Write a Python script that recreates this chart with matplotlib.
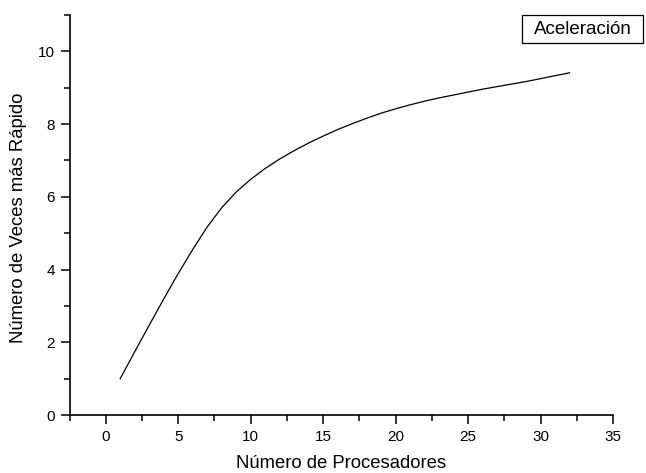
import matplotlib
matplotlib.use("Agg")
import matplotlib.pyplot as plt
from matplotlib.ticker import MultipleLocator
from matplotlib.patches import Rectangle

plt.rcParams['font.family'] = ['Liberation Sans', 'DejaVu Sans']

processors = list(range(1, 33))
speedup = [1.00, 1.74, 2.47, 3.19, 3.89, 4.55, 5.17, 5.70, 6.13, 6.48,
           6.78, 7.04, 7.27, 7.48, 7.67, 7.85, 8.01, 8.16, 8.30, 8.42,
           8.53, 8.63, 8.72, 8.80, 8.88, 8.96, 9.03, 9.10, 9.17, 9.25,
           9.33, 9.41]
legend_label = "Aceleración"
x_label = "Número de Procesadores"
y_label = "Número de Veces más Rápido"

W, H = 646, 473
fig = plt.figure(figsize=(W / 100, H / 100), dpi=100)
ax = fig.add_axes([69.5 / W, 1 - 415 / H, (613 - 69.5) / W, (415 - 15) / H])

ax.plot(processors, speedup, color='black', lw=0.9)

ax.set_xlim(-2.5, 35)
ax.set_ylim(0, 11)
ax.xaxis.set_major_locator(MultipleLocator(5))
ax.xaxis.set_minor_locator(MultipleLocator(2.5))
ax.yaxis.set_major_locator(MultipleLocator(2))
ax.yaxis.set_minor_locator(MultipleLocator(1))
ax.set_yticks([0, 2, 4, 6, 8, 10])

for s in ['top', 'right']:
    ax.spines[s].set_visible(False)
for s in ['left', 'bottom']:
    ax.spines[s].set_linewidth(1.2)

ax.tick_params(which='major', direction='out', length=6.5, width=1.1, labelsize=11)
ax.tick_params(axis='x', which='major', pad=4.5)
ax.tick_params(axis='y', which='major', pad=4)
ax.tick_params(which='minor', direction='out', length=4, width=1.1)

ax.set_xlabel(x_label, fontsize=13.3)
ax.xaxis.set_label_coords(341 / W, 1 - 455 / H, transform=fig.transFigure)
ax.set_ylabel(y_label, fontsize=13.3, va='center')
ax.yaxis.set_label_coords(18.7 / W, 1 - 218 / H, transform=fig.transFigure)

fig.patches.append(Rectangle((522 / W, 1 - 43 / H), (643 - 522) / W, 28 / H,
                             transform=fig.transFigure, fc='white', ec='black', lw=0.9))
fig.text(582.5 / W, 1 - 29.5 / H, legend_label, fontsize=13.5, ha='center', va='center')

fig.savefig('out.png', dpi=100)
